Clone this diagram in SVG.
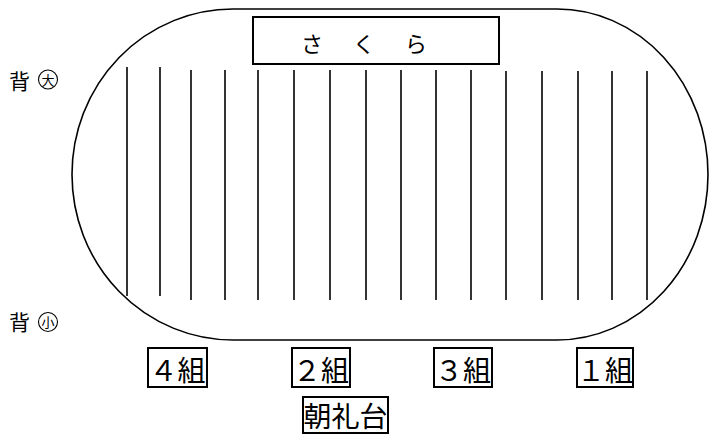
<svg xmlns="http://www.w3.org/2000/svg" width="709" height="435" viewBox="0 0 709 435">
<style>
.t{font-family:"Noto Sans CJK JP","Noto Sans CJK SC",sans-serif;fill:#000}
.box{fill:none;stroke:#000;stroke-width:2}
.row{stroke:#000;stroke-width:1.6}
</style>
<rect width="709" height="435" fill="#fff"/>
<g id="track">
<path d="M233 9 L557 9 A151 165.5 0 0 1 557 340 L233 340 A161 165.5 0 0 1 233 9 Z" fill="none" stroke="#000" stroke-width="1.6"/>
</g>
<g id="rows">
<line class="row" x1="127" y1="67" x2="127" y2="296"/>
<line class="row" x1="160" y1="67" x2="160" y2="296"/>
<line class="row" x1="191" y1="70" x2="191" y2="300"/>
<line class="row" x1="225" y1="70" x2="225" y2="300"/>
<line class="row" x1="258" y1="70" x2="258" y2="300"/>
<line class="row" x1="294" y1="70" x2="294" y2="300"/>
<line class="row" x1="330" y1="70" x2="330" y2="300"/>
<line class="row" x1="366" y1="70" x2="366" y2="300"/>
<line class="row" x1="401" y1="70" x2="401" y2="300"/>
<line class="row" x1="436" y1="70" x2="436" y2="300"/>
<line class="row" x1="471" y1="70" x2="471" y2="300"/>
<line class="row" x1="506" y1="71" x2="506" y2="300"/>
<line class="row" x1="542" y1="71" x2="542" y2="300"/>
<line class="row" x1="578" y1="71" x2="578" y2="300"/>
<line class="row" x1="612" y1="71" x2="612" y2="300"/>
<line class="row" x1="647" y1="71" x2="647" y2="300"/>
</g>
<g id="sakura">
<rect class="box" x="253" y="17" width="246" height="47"/>
<text class="t" x="301" y="52" font-size="22" letter-spacing="4">さ　く　ら</text>
</g>
<g id="label-tall">
<text class="t" x="9" y="89" font-size="21">背</text>
<circle cx="48" cy="79.5" r="9.5" fill="none" stroke="#000" stroke-width="1.1"/>
<text class="t" x="48" y="84.5" font-size="13" text-anchor="middle">大</text>
</g>
<g id="label-short">
<text class="t" x="9" y="330" font-size="21">背</text>
<circle cx="48" cy="322" r="9.5" fill="none" stroke="#000" stroke-width="1.1"/>
<text class="t" x="48" y="327" font-size="13" text-anchor="middle">小</text>
</g>
<g id="class4">
<rect class="box" x="148" y="348" width="59" height="39"/>
<text class="t" x="149.5" y="381" font-size="28">４組</text>
</g>
<g id="class2">
<rect class="box" x="292" y="348" width="58" height="39"/>
<text class="t" x="293" y="381" font-size="28">２組</text>
</g>
<g id="class3">
<rect class="box" x="434" y="348" width="58" height="39"/>
<text class="t" x="435" y="381" font-size="28">３組</text>
</g>
<g id="class1">
<rect class="box" x="577" y="348" width="56" height="39"/>
<text class="t" x="577" y="381" font-size="28">１組</text>
</g>
<g id="podium">
<rect class="box" x="303" y="397" width="85" height="36"/>
<text class="t" x="303.5" y="427" font-size="28">朝礼台</text>
</g>
</svg>
